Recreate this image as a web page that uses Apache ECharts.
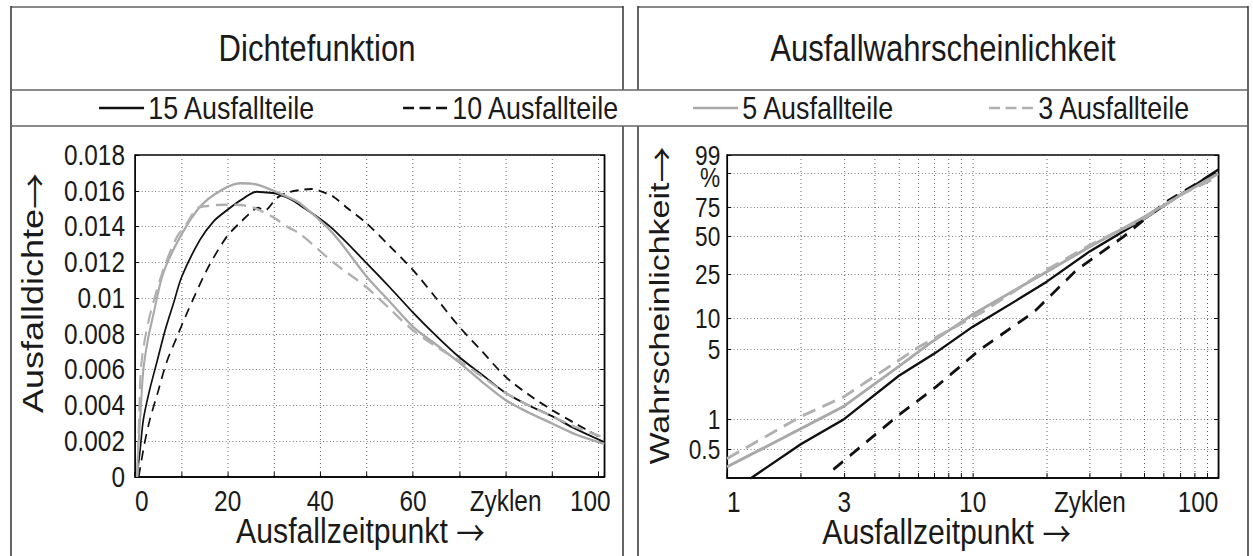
<!DOCTYPE html>
<html lang="de">
<head>
<meta charset="UTF-8">
<title>Dichtefunktion / Ausfallwahrscheinlichkeit</title>
<style>
  html, body { margin: 0; padding: 0; background: #fff; overflow: hidden; }
  #chart { height: 556px; transform-origin: 0 0; }
</style>
</head>
<body>
<div id="chart"></div>
<script src="https://cdn.jsdelivr.net/npm/echarts@6/dist/echarts.min.js"></script>
<script>
// the original figure uses a narrow Helvetica; we draw wider and squeeze horizontally
const SX = 0.84;
const X = v => v / SX;
const FONT = '"Liberation Sans", Arial, sans-serif';
const TEXT = '#1a1a1a';

const names = ['15 Ausfallteile', '10 Ausfallteile', '5 Ausfallteile', '3 Ausfallteile'];

// Dichtefunktion: [Zyklen, Ausfalldichte]
const density15 = [[0.4, 0], [1.1, 0.0015], [1.8, 0.0032], [3, 0.0047], [4.7, 0.0064], [6.5, 0.0082], [8.3, 0.0097], [10.1, 0.0112], [14, 0.01325], [17, 0.0143], [19.8, 0.0149], [23, 0.0155], [26.3, 0.01595], [28.5, 0.0159], [30.2, 0.01586], [33, 0.0156], [35.6, 0.0152], [42.1, 0.0140], [50, 0.01195], [55, 0.0106], [60, 0.0092], [65, 0.0079], [70, 0.0067], [75, 0.0057], [80, 0.0047], [85, 0.0040], [90, 0.0034], [95, 0.0027], [101.3, 0.00195]];
const density10 = [[0.8, 0], [2, 0.0018], [3.2, 0.0032], [5, 0.0048], [6.8, 0.0064], [9, 0.0078], [11.2, 0.00915], [15.5, 0.01157], [19.8, 0.01343], [23, 0.0143], [25.5, 0.0149], [26.5, 0.01505], [28, 0.0149], [30.6, 0.0156], [33, 0.0159], [35.6, 0.01604], [38, 0.0161], [40, 0.01598], [42.8, 0.01567], [46, 0.0150], [50, 0.01418], [55, 0.0129], [60, 0.01157], [65, 0.0100], [70, 0.0084], [75, 0.0070], [80, 0.0056], [85, 0.0046], [90, 0.00375], [95, 0.0030], [101.3, 0.0021]];
const density5 = [[0.4, 0], [0.7, 0.0016], [1.1, 0.0032], [1.8, 0.0060], [2.8, 0.0077], [3.9, 0.0090], [6.1, 0.0114], [9.7, 0.0134], [14, 0.0151], [18.4, 0.0160], [22.7, 0.01642], [25, 0.0164], [27.7, 0.01623], [32.8, 0.01567], [35.6, 0.0153], [42.8, 0.0136], [50, 0.0112], [55, 0.0098], [60, 0.0084], [65, 0.0074], [70, 0.0064], [75, 0.0053], [80, 0.0043], [85, 0.0036], [90, 0.0030], [95, 0.0024], [101.3, 0.00185]];
const density3 = [[0.5, 0], [0.9, 0.0035], [1.4, 0.0064], [3, 0.0088], [6, 0.0115], [9, 0.0134], [11, 0.0141], [13.3, 0.0150], [15.5, 0.01515], [17.6, 0.0152], [20, 0.01522], [22.7, 0.0152], [25, 0.0151], [27, 0.0149], [30, 0.0145], [32.8, 0.0140], [35.6, 0.0136], [42.8, 0.0120], [50, 0.0106], [55, 0.0094], [60, 0.0082], [65, 0.0073], [70, 0.0065], [75, 0.0056], [80, 0.0047], [85, 0.0040], [90, 0.0034], [95, 0.0028], [101.3, 0.0022]];

// Ausfallwahrscheinlichkeit: [Zyklen, Prozent]
const prob15 = [[1.24, 0.25], [2, 0.56], [3, 1.0], [5, 2.7], [7, 4.5], [10, 8.2], [15, 14.5], [20, 21.6], [30, 39], [50, 65], [70, 84], [100, 96.3]];
const prob10 = [[2.71, 0.31], [4.92, 1.06], [7.1, 2.1], [10.7, 4.9], [17.8, 11.4], [26.5, 27.4], [41.1, 50], [60, 77.7], [100, 96]];
const prob5 = [[1, 0.33], [2, 0.8], [3, 1.35], [5, 3.35], [6.72, 5.7], [9.9, 10.6], [15, 18.4], [20, 26.4], [30, 42.3], [50, 66.7], [70, 83.6], [100, 95]];
const prob3 = [[1, 0.40], [2, 1.06], [3, 1.68], [6.1, 5.3], [7.36, 6.8], [11, 11.4], [20, 27.4], [30, 43.5], [50, 65.4], [72, 85], [100, 93.8]];

// Achsen
const probTicks = [0.5, 1, 5, 10, 25, 50, 75, 95, 99];
const probLabels = [0.5, 1, 5, 10, 25, 50, 75, 99];   // the "%" sits under the 99
const probRange = [0.255, 99.02];
const cycleGridLog = [1, 2, 3, 4, 5, 6, 7, 8, 9, 10, 20, 30, 40, 50, 60, 70, 80, 90, 100];
const cycleLabelsLog = [1, 3, 10, 30, 100];

// Weibull-Papier: y = ln(-ln(1 - F))
const weib = p => Math.log(-Math.log(1 - p / 100));

const leftStyles = [
  { color: '#111', width: 2, type: 'solid' },
  { color: '#111', width: 2, type: [10, 7] },
  { color: '#a9a9a9', width: 2.5, type: 'solid' },
  { color: '#b0b0b0', width: 2.5, type: [14, 8] }
];
const rightStyles = [
  { color: '#111', width: 2.5, type: 'solid' },
  { color: '#111', width: 3, type: [14, 10] },
  { color: '#a9a9a9', width: 3, type: 'solid' },
  { color: '#b0b0b0', width: 3, type: [16, 9] }
];
const legendDash = [X(11), X(5.5)];

const font = size => ({ fontFamily: FONT, fontSize: size, color: TEXT });
const gridLine = { type: [1, 3], color: '#555', width: 1 };
const axisLine = { onZero: false, lineStyle: { color: '#000', width: 1.5 } };
// axis titles: text plus a long thin arrow
const ARROW_FONT = '"Noto Sans CJK SC", "DejaVu Sans", sans-serif';
const nameRich = (size, lh, arrow = 36) => ({
  t: { ...font(size), lineHeight: lh },
  a: { fontFamily: ARROW_FONT, fontSize: arrow, color: TEXT, lineHeight: lh }
});

const lineSeries = (name, style, data, xi, yi, smooth) => ({
  name,
  type: 'line',
  xAxisIndex: xi,
  yAxisIndex: yi,
  data,
  smooth,
  symbol: 'none',
  lineStyle: style,
  itemStyle: { color: style.color }
});

// Rahmen: x1, y1, x2, y2 (Bildschirm-px), Farbe, Breite
const frame = [
  [11, 7, 623, 7, '#888', 2],
  [638, 7, 1248, 7, '#888', 2],
  [11, 6, 11, 556, '#333', 1.8],
  [1248, 6, 1248, 556, '#333', 1.8],
  [623, 6, 623, 90, '#333', 1.8],
  [623, 126, 623, 556, '#333', 1.8],
  [638, 6, 638, 90, '#333', 1.8],
  [638, 126, 638, 556, '#333', 1.8],
  [11, 90, 1248, 90, '#666', 1.5],
  [11, 126, 1248, 126, '#666', 1.5]
];

const legendPos = [98, 402, 692, 988];

const el = document.getElementById('chart');
el.style.width = X(1253) + 'px';
el.style.transform = 'scaleX(' + SX + ')';
const chart = echarts.init(el, null, { renderer: 'svg' });

chart.setOption({
  backgroundColor: '#fff',
  animation: false,
  graphic: frame.map(f => ({
    type: 'line',
    shape: { x1: X(f[0]), y1: f[1], x2: X(f[2]), y2: f[3] },
    style: { stroke: f[4], lineWidth: f[5] },
    silent: true
  })).concat([
    { type: 'text', x: X(317), y: 48, style: { text: 'Dichtefunktion', font: '37px ' + FONT, fill: TEXT, textAlign: 'center', textVerticalAlign: 'middle' } },
    { type: 'text', x: X(943), y: 48, style: { text: 'Ausfallwahrscheinlichkeit', font: '37px ' + FONT, fill: TEXT, textAlign: 'center', textVerticalAlign: 'middle' } }
  ]),
  legend: names.map((n, i) => ({
    data: [n],
    left: X(legendPos[i]),
    top: 92,
    padding: 0,
    itemWidth: X(45),
    itemHeight: 14,
    selectedMode: false,
    itemStyle: { color: 'transparent', borderColor: 'transparent', borderWidth: 0, opacity: 0 },
    lineStyle: { width: 2.5, type: i % 2 ? legendDash : 'solid' },
    textStyle: { ...font(32), lineHeight: 32 }
  })),
  grid: [
    { left: X(135), top: 155, right: X(649), bottom: 79, outerBoundsMode: 'none', show: true, borderColor: '#000', borderWidth: 1.5 },
    { left: X(727), top: 155, right: X(35), bottom: 78, outerBoundsMode: 'none', show: true, borderColor: '#000', borderWidth: 1.5 }
  ],
  xAxis: [
    {
      gridIndex: 0, type: 'value', min: 0, max: 101.3, interval: 10,
      axisLine,
      axisTick: { inside: true, length: 5, lineStyle: { color: '#000' } },
      axisLabel: {
        ...font(29), margin: 10, alignMinLabel: 'left',
        formatter: v => {
          const r = Math.round(v);
          if (Math.abs(v % 20) > 1e-6) return '';
          if (r === 80) return 'Zyklen';
          if (r === 100) return '{e|100}';
          return String(r);
        },
        rich: { e: { ...font(29), padding: [0, X(16), 0, 0] } }
      },
      splitLine: { show: true, lineStyle: gridLine },
      name: '{t|Ausfallzeitpunkt }{a|→}', nameLocation: 'middle', nameGap: 37, nameMoveOverlap: false,
      nameTextStyle: { ...font(36), padding: [0, 22, 0, 0], rich: nameRich(36, 34, 34) }
    },
    {
      gridIndex: 1, type: 'log', logBase: 10, min: 1, max: 100,
      axisLine,
      axisTick: { inside: true, length: 5, customValues: cycleGridLog, lineStyle: { color: '#000' } },
      axisLabel: {
        ...font(29), margin: 10, customValues: cycleLabelsLog,
        alignMinLabel: 'left', alignMaxLabel: 'right',
        formatter: v => Math.round(v) === 30 ? 'Zyklen' : String(Math.round(v))
      },
      splitLine: { show: true, lineStyle: gridLine },
      name: '{t|Ausfallzeitpunkt }{a|→}', nameLocation: 'middle', nameGap: 37, nameMoveOverlap: false,
      nameTextStyle: { ...font(36), padding: [0, 62, 0, 0], rich: nameRich(36, 34, 34) }
    }
  ],
  yAxis: [
    {
      gridIndex: 0, type: 'value', min: 0, max: 0.018, interval: 0.002,
      axisLine,
      axisTick: { inside: true, length: 5, lineStyle: { color: '#000' } },
      axisLabel: { ...font(29), margin: 12, showMaxLabel: true, showMinLabel: true },
      splitLine: { show: true, lineStyle: gridLine },
      name: '{t|Ausfalldichte}{a|→}', nameLocation: 'middle', nameGap: 104,
      nameTextStyle: { ...font(36), padding: [0, 0, 0, 46], rich: nameRich(36) }
    },
    {
      gridIndex: 0, type: 'value', position: 'right', min: 0, max: 0.018, interval: 0.002,
      axisLine,
      axisTick: { inside: true, length: 5, lineStyle: { color: '#000' } },
      axisLabel: { show: false }, splitLine: { show: false }
    },
    {
      gridIndex: 1, type: 'value', min: weib(probRange[0]), max: weib(probRange[1]),
      axisLine,
      axisTick: { inside: true, length: 5, customValues: probTicks.map(weib), lineStyle: { color: '#000' } },
      axisLabel: {
        ...font(27), lineHeight: 22, margin: 8,
        // empty labels at both axis ends keep the real ones from being thinned out
        customValues: [probRange[0]].concat(probLabels, [probRange[1]]).map(weib),
        formatter: v => {
          const t = probLabels.find(p => Math.abs(weib(p) - v) < 1e-9);
          if (t === undefined) return '';
          return t === 99 ? '\n99\n%' : String(t);
        }
      },
      splitLine: { show: true, lineStyle: gridLine },
      name: '{t|Wahrscheinlichkeit}{a|→}', nameLocation: 'middle', nameGap: 62,
      nameTextStyle: { ...font(34), padding: [0, 0, 0, 22], rich: nameRich(34) }
    },
    {
      gridIndex: 1, type: 'value', position: 'right', min: weib(probRange[0]), max: weib(probRange[1]),
      axisLine,
      axisTick: { inside: true, length: 5, customValues: probTicks.map(weib), lineStyle: { color: '#000' } },
      axisLabel: { show: false }, splitLine: { show: false }
    }
  ],
  series: [
    lineSeries(names[0], leftStyles[0], density15, 0, 0, 0.3),
    lineSeries(names[1], leftStyles[1], density10, 0, 0, 0.3),
    lineSeries(names[2], leftStyles[2], density5, 0, 0, 0.3),
    lineSeries(names[3], leftStyles[3], density3, 0, 0, 0.3),
    lineSeries(names[0], rightStyles[0], prob15.map(d => [d[0], weib(d[1])]), 1, 2, false),
    lineSeries(names[1], rightStyles[1], prob10.map(d => [d[0], weib(d[1])]), 1, 2, false),
    lineSeries(names[2], rightStyles[2], prob5.map(d => [d[0], weib(d[1])]), 1, 2, false),
    lineSeries(names[3], rightStyles[3], prob3.map(d => [d[0], weib(d[1])]), 1, 2, false)
  ]
});
</script>
</body>
</html>
